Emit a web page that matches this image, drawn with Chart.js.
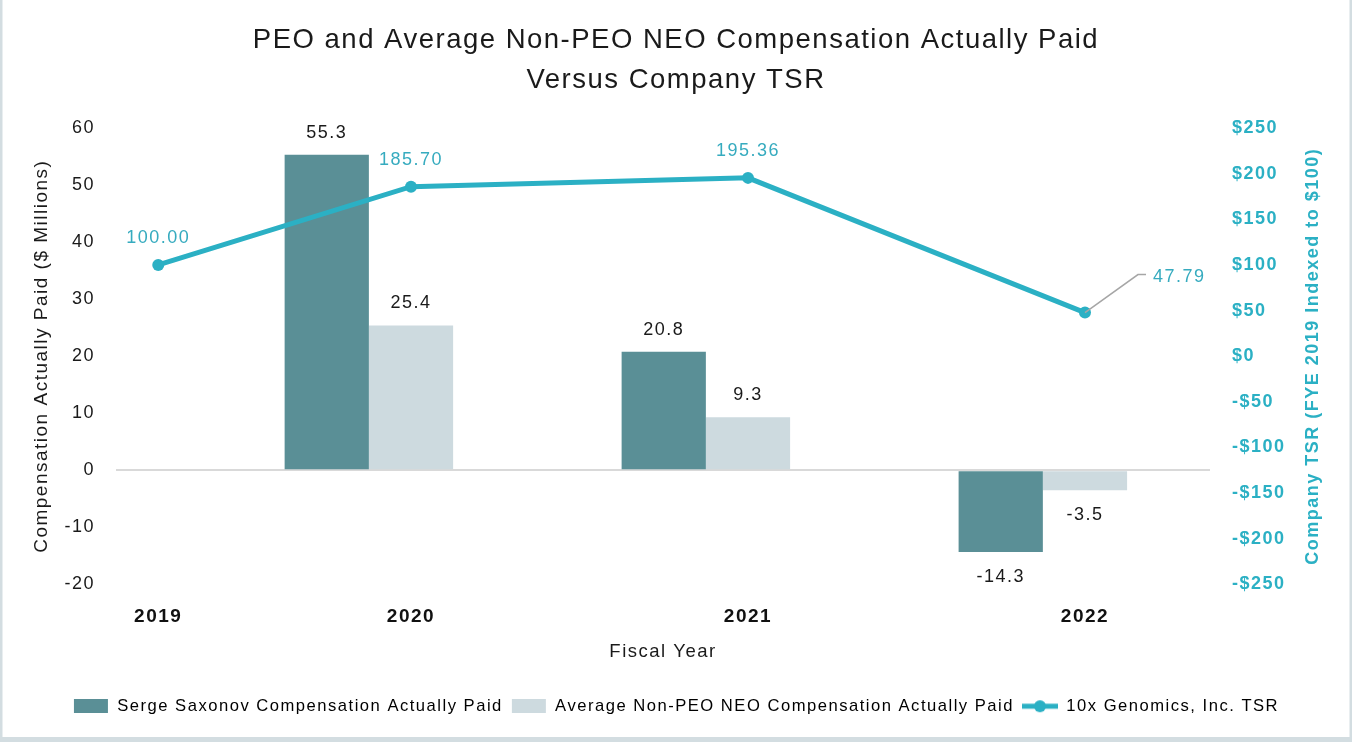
<!DOCTYPE html>
<html lang="en">
<head>
  <meta charset="UTF-8" />
  <title>PEO and Average Non-PEO NEO Compensation Actually Paid Versus Company TSR</title>
  <script src="https://cdn.jsdelivr.net/npm/chart.js"></script>
  <style>
    html, body {
      margin: 0;
      padding: 0;
      background: #ffffff;
    }
    .chart-box {
      width: 1352px;
      height: 742px;
    }
  </style>
</head>
<body>
  <div class="chart-box">
    <canvas id="cap-vs-tsr" width="1352" height="742"></canvas>
  </div>

  <script>
    // data
    const years = ['2019', '2020', '2021', '2022'];
    const yearPos = [2019.25, 2020, 2021, 2022]; // where the year label / TSR point sits
    const barPos = [2019, 2020, 2021, 2022];
    const peoCap = [null, 55.3, 20.8, -14.3];
    const neoCap = [null, 25.4, 9.3, -3.5];
    const tsr = [100.00, 185.70, 195.36, 47.79];
    const capTicks = [-20, -10, 0, 10, 20, 30, 40, 50, 60];
    const tsrTicks = [-250, -200, -150, -100, -50, 0, 50, 100, 150, 200, 250];

    const PEO_COLOR = '#5a8f96';
    const NEO_COLOR = '#cddadf';
    const TSR_COLOR = '#2bb0c4';
    const TSR_TEXT = '#36abbf';
    const FONT = "'Liberation Sans', Arial, Helvetica, sans-serif";
    const SPACING = '1.5px'; // the original type is a bit wider than Arial

    // x range of the plot; the PEO bars sit one bar-width left of the NEO bars
    const X_MIN = 2019.1246;
    const X_MAX = 2022.371;
    const PEO_SHIFT = 0.25;

    Chart.defaults.font.family = FONT;
    Chart.defaults.color = '#1a1a1a';

    // little legend swatches
    function swatch(kind, color) {
      const c = document.createElement('canvas');
      c.width = 36;
      c.height = 14;
      const g = c.getContext('2d');
      g.fillStyle = color;
      g.strokeStyle = color;
      if (kind === 'box') {
        g.fillRect(1, 0, 34, 14);
      } else {
        g.lineWidth = 5;
        g.beginPath();
        g.moveTo(0, 7);
        g.lineTo(36, 7);
        g.stroke();
        g.beginPath();
        g.arc(18, 7, 6, 0, Math.PI * 2);
        g.fill();
      }
      return c;
    }

    const spacing = {
      id: 'spacing',
      beforeLayout(chart) { chart.ctx.letterSpacing = SPACING; },
      beforeDraw(chart) { chart.ctx.letterSpacing = SPACING; }
    };

    const frame = {
      id: 'frame',
      beforeDraw(chart) {
        const ctx = chart.ctx;
        ctx.save();
        ctx.fillStyle = '#ffffff';
        ctx.fillRect(0, 0, chart.width, chart.height);
        ctx.strokeStyle = '#d3dde1';
        ctx.lineWidth = 5;
        ctx.strokeRect(0, -3, chart.width, chart.height + 0.5);
        ctx.restore();
      }
    };

    // right axis title reads bottom-to-top, so it is drawn here
    const rightTitle = {
      id: 'rightTitle',
      afterDraw(chart) {
        const ctx = chart.ctx;
        const area = chart.chartArea;
        ctx.save();
        ctx.translate(1313, (area.top + area.bottom) / 2);
        ctx.rotate(-Math.PI / 2);
        ctx.font = 'bold 18px ' + FONT;
        ctx.fillStyle = TSR_COLOR;
        ctx.textAlign = 'center';
        ctx.textBaseline = 'middle';
        ctx.fillText('Company TSR (FYE 2019 Indexed to $100)', 0, 0);
        ctx.restore();
      }
    };

    const valueLabels = {
      id: 'valueLabels',
      afterDatasetsDraw(chart) {
        const ctx = chart.ctx;
        ctx.save();
        ctx.font = '18px ' + FONT;
        ctx.textAlign = 'center';
        ctx.textBaseline = 'middle';

        [0, 1].forEach(di => {
          const ds = chart.data.datasets[di];
          chart.getDatasetMeta(di).data.forEach((bar, i) => {
            const v = ds.data[i].y;
            if (v === null) return;
            ctx.fillStyle = '#1a1a1a';
            const y = v >= 0 ? bar.y - 22 : bar.y + 25;
            ctx.fillText(v.toFixed(1), bar.x, y);
          });
        });

        const line = chart.getDatasetMeta(2).data;
        line.forEach((pt, i) => {
          const text = tsr[i].toFixed(2);
          ctx.fillStyle = TSR_TEXT;
          if (i === line.length - 1) {
            // last label is pulled out with a leader line
            ctx.strokeStyle = '#a6a6a6';
            ctx.lineWidth = 1.5;
            ctx.beginPath();
            ctx.moveTo(pt.x, pt.y);
            ctx.lineTo(pt.x + 53, pt.y - 38);
            ctx.lineTo(pt.x + 61, pt.y - 38);
            ctx.stroke();
            ctx.textAlign = 'left';
            ctx.fillText(text, pt.x + 68, pt.y - 36);
            ctx.textAlign = 'center';
          } else {
            ctx.fillText(text, pt.x, pt.y - 27);
          }
        });
        ctx.restore();
      }
    };

    const barAxis = (shift) => ({
      type: 'linear',
      display: false,
      min: X_MIN + shift,
      max: X_MAX + shift,
      offset: false,
      afterBuildTicks: s => { s.ticks = barPos.map(v => ({ value: v })); },
      grid: { offset: false }
    });

    const ctx = document.getElementById('cap-vs-tsr').getContext('2d');
    new Chart(ctx, {
      type: 'bar',
      data: {
        datasets: [
          {
            label: 'Serge Saxonov Compensation Actually Paid',
            data: barPos.map((x, i) => ({ x: x, y: peoCap[i] })),
            backgroundColor: PEO_COLOR,
            xAxisID: 'xp',
            yAxisID: 'y',
            grouped: false,
            categoryPercentage: 0.25,
            barPercentage: 1.0,
            order: 1
          },
          {
            label: 'Average Non-PEO NEO Compensation Actually Paid',
            data: barPos.map((x, i) => ({ x: x, y: neoCap[i] })),
            backgroundColor: NEO_COLOR,
            xAxisID: 'xn',
            yAxisID: 'y',
            grouped: false,
            categoryPercentage: 0.25,
            barPercentage: 1.0,
            order: 1
          },
          {
            type: 'line',
            label: '10x Genomics, Inc. TSR',
            data: yearPos.map((x, i) => ({ x: x, y: tsr[i] })),
            borderColor: TSR_COLOR,
            backgroundColor: TSR_COLOR,
            borderWidth: 5,
            pointRadius: 6,
            pointHoverRadius: 6,
            pointBackgroundColor: TSR_COLOR,
            pointBorderWidth: 0,
            tension: 0,
            xAxisID: 'x',
            yAxisID: 'y1',
            order: -1
          }
        ]
      },
      options: {
        responsive: false,
        animation: false,
        layout: { padding: { left: 0, right: 0, top: 0, bottom: 17.5 } },
        scales: {
          x: {
            type: 'linear',
            position: 'bottom',
            min: X_MIN,
            max: X_MAX,
            offset: false,
            grid: { display: false, drawTicks: false, offset: false },
            border: { display: false },
            afterBuildTicks: s => { s.ticks = yearPos.map(v => ({ value: v })); },
            afterFit: s => { s.height = 105.5; },
            ticks: {
              autoSkip: false,
              maxRotation: 0,
              padding: 21,
              color: '#111111',
              font: { size: 19, weight: 'bold' },
              callback: (v, i) => years[i]
            },
            title: {
              display: true,
              text: 'Fiscal Year',
              color: '#1a1a1a',
              font: { size: 18.5 },
              padding: { top: 0, bottom: 26.7 }
            }
          },
          xn: barAxis(0),
          xp: barAxis(PEO_SHIFT),
          y: {
            position: 'left',
            min: -20,
            max: 60,
            afterBuildTicks: s => { s.ticks = capTicks.map(v => ({ value: v })); },
            afterFit: s => { s.width = 116; },
            grid: {
              drawTicks: false,
              lineWidth: 2,
              color: c => (c.tick && c.tick.value === 0 ? '#d9d9d9' : 'rgba(0,0,0,0)')
            },
            border: { display: false },
            ticks: {
              padding: 21,
              color: '#1a1a1a',
              font: { size: 18 }
            },
            title: {
              display: true,
              text: 'Compensation Actually Paid ($ Millions)',
              color: '#1a1a1a',
              font: { size: 19 },
              padding: { top: 30.5, bottom: 0 }
            }
          },
          y1: {
            position: 'right',
            min: -250,
            max: 250,
            afterBuildTicks: s => { s.ticks = tsrTicks.map(v => ({ value: v })); },
            afterFit: s => { s.width = 142; },
            grid: { display: false, drawTicks: false },
            border: { display: false },
            ticks: {
              padding: 22,
              color: TSR_COLOR,
              font: { size: 18, weight: 'bold' },
              callback: v => (v < 0 ? '-$' + Math.abs(v) : '$' + v)
            }
          }
        },
        plugins: {
          title: {
            display: true,
            text: ['PEO and Average Non-PEO NEO Compensation Actually Paid', 'Versus Company TSR'],
            color: '#1a1a1a',
            font: { size: 27.5, weight: 'normal', lineHeight: 40 / 27.5 },
            padding: { top: 20, bottom: 28 }
          },
          legend: {
            position: 'bottom',
            labels: {
              usePointStyle: true,
              pointStyleWidth: 36,
              boxHeight: 14,
              padding: 8,
              color: '#1a1a1a',
              font: { size: 16.6 },
              generateLabels: chart => chart.data.datasets.map((ds, i) => ({
                text: ds.label,
                pointStyle: swatch(i === 2 ? 'line' : 'box', ds.backgroundColor),
                fillStyle: ds.backgroundColor,
                strokeStyle: ds.backgroundColor,
                lineWidth: 0,
                hidden: false,
                datasetIndex: i
              }))
            }
          },
          tooltip: { enabled: false }
        }
      },
      plugins: [spacing, frame, rightTitle, valueLabels]
    });
  </script>
</body>
</html>
